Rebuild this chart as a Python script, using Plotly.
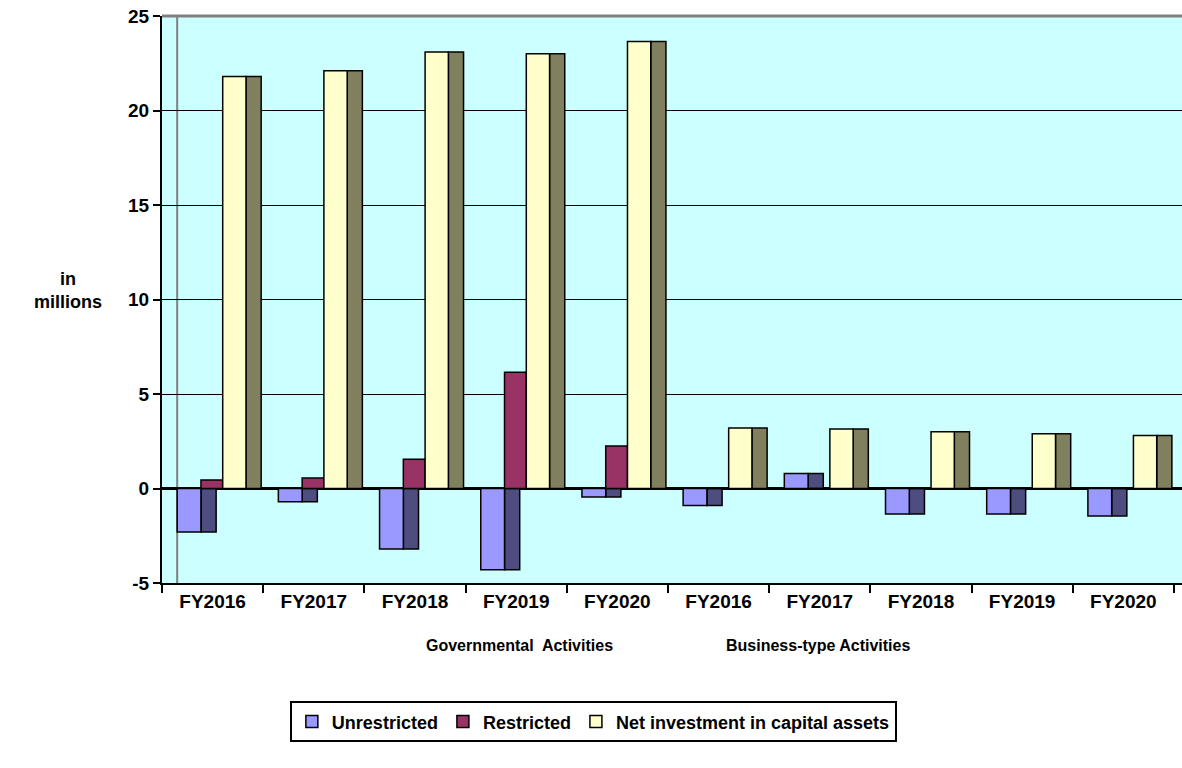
import plotly.graph_objects as go

# ---- data ----
categories = ["FY2016", "FY2017", "FY2018", "FY2019", "FY2020",
              "FY2016", "FY2017", "FY2018", "FY2019", "FY2020"]
group_labels = ["Governmental  Activities", "Business-type Activities"]
unrestricted = [-2.3, -0.7, -3.2, -4.3, -0.45, -0.9, 0.8, -1.35, -1.35, -1.45]
restricted = [0.45, 0.55, 1.55, 6.15, 2.25, 0, 0, 0, 0, 0]
net_investment = [21.8, 22.1, 23.1, 23.0, 23.65, 3.2, 3.15, 3.0, 2.9, 2.8]
y_ticks = [-5, 0, 5, 10, 15, 20, 25]
y_tick_labels = ["-5", "0", "5", "10", "15", "20", "25"]

FONT = "Liberation Sans, Arial, sans-serif"
x = list(range(len(categories)))
n = len(categories)

# series: (name, values, front colour, side colour, front offset, front width)
series = [
    ("Unrestricted", unrestricted, "#9999FF", "#4D4D80", -0.35, 0.235),
    ("Restricted", restricted, "#993366", "#4D1A33", -0.115, 0.215),
    ("Net investment in capital assets", net_investment, "#FFFFCC", "#80805F", 0.10, 0.23),
]

fig = go.Figure()
for name, vals, cfront, cside, off, w in series:
    # side face (depth) drawn first, then front face
    fig.add_trace(go.Bar(
        x=x, y=vals, offset=[off + w] * n, width=[0.15] * n,
        marker=dict(color=cside, line=dict(color="black", width=1.5)),
        showlegend=False, hoverinfo="skip"))
    fig.add_trace(go.Bar(
        x=x, y=vals, name=name, offset=[off] * n, width=[w] * n,
        marker=dict(color=cfront, line=dict(color="black", width=1.5))))

fig.update_layout(
    width=1182, height=768, autosize=False,
    margin=dict(l=162, r=0, t=16, b=185),
    barmode="overlay",
    paper_bgcolor="white", plot_bgcolor="#CCFFFF",
    font=dict(family=FONT, color="black", size=18, weight="bold"),
    xaxis=dict(
        range=[-0.5, 9.58], tickmode="array", tickvals=x, ticktext=categories,
        ticks="", showgrid=False, zeroline=False,
        showline=True, linecolor="black", linewidth=2,
        tickfont=dict(family=FONT, size=19, weight="bold"),
        minor=dict(tickmode="array", tickvals=[i - 0.5 for i in range(n + 1)],
                   ticks="outside", ticklen=8, tickwidth=2, tickcolor="black",
                   showgrid=False),
    ),
    yaxis=dict(
        range=[-5, 25], tickmode="array", tickvals=y_ticks, ticktext=y_tick_labels,
        ticks="outside", ticklen=7, tickwidth=2, tickcolor="black",
        showline=True, linecolor="black", linewidth=2,
        showgrid=True, gridcolor="black", gridwidth=1.3,
        zeroline=True, zerolinecolor="black", zerolinewidth=3,
        tickfont=dict(family=FONT, size=19, weight="bold"),
    ),
    legend=dict(
        orientation="h", xref="container", yref="container",
        x=0.502, xanchor="center", y=0.06, yanchor="middle",
        bordercolor="black", borderwidth=2, bgcolor="white",
        font=dict(family=FONT, size=18, weight="bold"),
        itemwidth=30, tracegroupgap=0,
    ),
    annotations=[
        dict(text=group_labels[0], xref="paper", yref="paper",
             x=(519 - 162) / 1020, y=-0.11, showarrow=False,
             xanchor="center", yanchor="middle",
             font=dict(family=FONT, size=16, weight="bold")),
        dict(text=group_labels[1], xref="paper", yref="paper",
             x=(818 - 162) / 1020, y=-0.11, showarrow=False,
             xanchor="center", yanchor="middle",
             font=dict(family=FONT, size=16, weight="bold")),
        dict(text="in<br>millions", xref="paper", yref="paper",
             x=-0.092, y=0.515, showarrow=False, align="center",
             xanchor="center", yanchor="middle",
             font=dict(family=FONT, size=18, weight="bold")),
    ],
    shapes=[
        dict(type="line", xref="x", yref="paper", x0=-0.35, x1=-0.35, y0=0, y1=1,
             line=dict(color="#808080", width=2), layer="below"),
        dict(type="line", xref="paper", yref="paper", x0=0, x1=1, y0=1, y1=1,
             line=dict(color="#808080", width=3)),
    ],
)

fig.write_html("out.html")
